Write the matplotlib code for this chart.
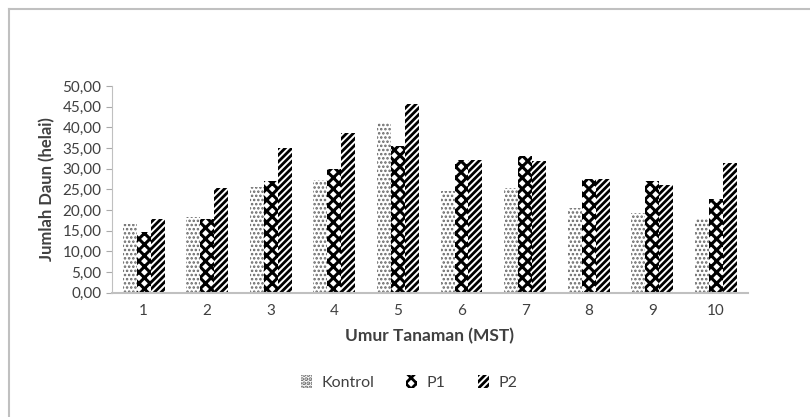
import numpy as np
import matplotlib.pyplot as plt
from matplotlib.lines import Line2D

plt.rcParams['font.family'] = ['Lato', 'DejaVu Sans']

# data
minggu = ['1', '2', '3', '4', '5', '6', '7', '8', '9', '10']
kontrol = [16.6, 18.2, 25.6, 27.3, 41.0, 24.6, 25.4, 20.6, 19.3, 18.0]
p1 = [14.6, 17.8, 27.0, 29.8, 35.4, 32.2, 33.0, 27.5, 27.0, 22.6]
p2 = [17.8, 25.2, 35.1, 38.5, 45.7, 32.0, 31.8, 27.4, 26.0, 31.3]

fig = plt.figure(figsize=(8.1, 4.17), dpi=100)
ax = fig.add_axes([0.138, 0.298, 0.785, 0.496])

x = np.arange(len(minggu))
w = 0.22
tc = '#404040'

plt.rcParams['hatch.linewidth'] = 1.2
ax.bar(x - w, kontrol, w, color='white', edgecolor='#666666', hatch='....', linewidth=0, label='Kontrol')
plt.rcParams['hatch.linewidth'] = 2.2
ax.bar(x, p1, w, color='white', edgecolor='black', hatch='xxx', linewidth=0, label='P1')
plt.rcParams['hatch.linewidth'] = 2.0
ax.bar(x + w, p2, w, color='white', edgecolor='black', hatch='/////', linewidth=0, label='P2')

ax.set_ylim(0, 50)
ax.set_xlim(-0.5, len(minggu) - 0.5)
ax.set_yticks(np.arange(0, 51, 5))
ax.set_yticklabels([f'{v:.2f}'.replace('.', ',') for v in np.arange(0, 51, 5)])
ax.set_xticks(x)
ax.set_xticklabels(minggu)
ax.tick_params(axis='y', colors='#aaaaaa', labelcolor=tc, labelsize=11, length=4)
ax.tick_params(axis='x', length=0, labelcolor=tc, labelsize=11, pad=8)

for s in ['top', 'right']:
    ax.spines[s].set_visible(False)
ax.spines['left'].set_color('#c0c0c0')
ax.spines['bottom'].set_color('#c0c0c0')
ax.spines['bottom'].set_linewidth(1.5)

ax.set_ylabel('Jumlah Daun (helai)', fontweight='bold', fontsize=12, color=tc, labelpad=5)
ax.set_xlabel('Umur Tanaman (MST)', fontweight='bold', fontsize=12.5, color=tc, labelpad=7)

leg = fig.legend(loc='center', bbox_to_anchor=(0.505, 0.082), ncol=3, frameon=False,
                 fontsize=11.5, handlelength=0.7, handleheight=0.8, handletextpad=0.6,
                 columnspacing=2.0, labelcolor=tc)

# outer frame
fig.add_artist(Line2D([0.011, 1.0], [0.978, 0.978], color='#c0c0c0', lw=1.5, transform=fig.transFigure))
fig.add_artist(Line2D([0.011, 0.011], [0.0, 0.978], color='#c0c0c0', lw=1.5, transform=fig.transFigure))

fig.savefig('out.png', dpi=100)
